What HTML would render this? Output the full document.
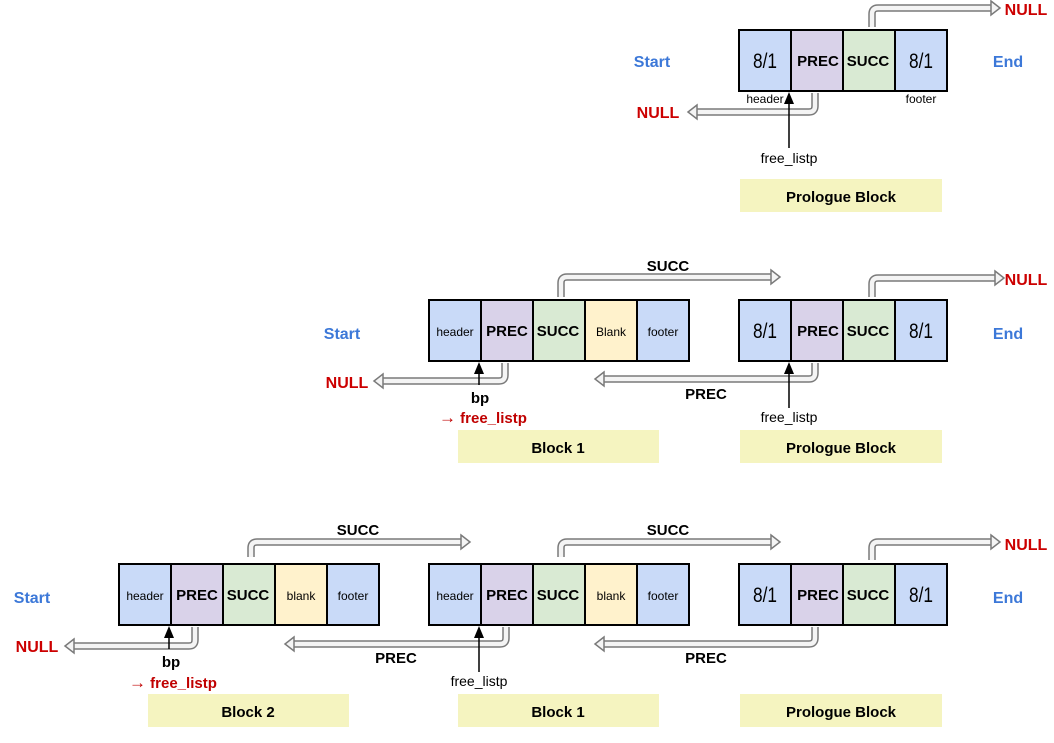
<!DOCTYPE html>
<html><head><meta charset="utf-8"><style>
html,body{margin:0;padding:0;background:#fff;}
svg{display:block;font-family:"Liberation Sans","DejaVu Sans",sans-serif;}
.b{font-weight:bold;}
.st{fill:#3C78D8;font-weight:bold;font-size:16px;}
.nl{fill:#CC0000;font-weight:bold;font-size:16px;}
.c{stroke:#000;stroke-width:2;}
.ao{fill:none;stroke:#7a7a7a;stroke-width:7.5;}
.ai{fill:none;stroke:#f4f4f4;stroke-width:4.5;}
.ah{fill:#f4f4f4;stroke:#7a7a7a;stroke-width:1.5;}
.lb{fill:#F5F4C0;}
.n8{font-size:21px;}
</style></head><body>
<svg width="1054" height="743" viewBox="0 0 1054 743" xmlns="http://www.w3.org/2000/svg">
<defs>
<g id="pro">
<rect x="0" y="0" width="52" height="61" fill="#C9DAF8" class="c"/>
<rect x="52" y="0" width="52" height="61" fill="#D9D2E9" class="c"/>
<rect x="104" y="0" width="52" height="61" fill="#D9EAD3" class="c"/>
<rect x="156" y="0" width="52" height="61" fill="#C9DAF8" class="c"/>
<text x="26" y="38" text-anchor="middle" class="n8" textLength="24" lengthAdjust="spacingAndGlyphs">8/1</text>
<text x="79" y="36" text-anchor="middle" class="b" font-size="15">PREC</text>
<text x="129" y="36" text-anchor="middle" class="b" font-size="15">SUCC</text>
<text x="182" y="38" text-anchor="middle" class="n8" textLength="24" lengthAdjust="spacingAndGlyphs">8/1</text>
</g>
</defs>

<!-- ROW 1 -->
<text x="652" y="67" text-anchor="middle" class="st">Start</text>
<text x="1008" y="67" text-anchor="middle" class="st">End</text>
<use href="#pro" x="739" y="30"/>
<text x="765" y="103" text-anchor="middle" font-size="12">header</text>
<text x="921" y="103" text-anchor="middle" font-size="12">footer</text>
<path class="ao" d="M872,27 V14 Q872,8 878,8 H993"/><path class="ai" d="M872,27 V14 Q872,8 878,8 H993"/>
<polygon class="ah" points="991,1 1000,8 991,15"/>
<text x="1026" y="15" text-anchor="middle" class="nl">NULL</text>
<path class="ao" d="M815,93 V106 Q815,112 809,112 H695"/><path class="ai" d="M815,93 V106 Q815,112 809,112 H695"/>
<polygon class="ah" points="697,105 688,112 697,119"/>
<text x="658" y="118" text-anchor="middle" class="nl">NULL</text>
<line x1="789" y1="148" x2="789" y2="104" stroke="#000" stroke-width="1.5"/>
<polygon points="784,104 794,104 789,92" fill="#000"/>
<text x="789" y="163" text-anchor="middle" font-size="14">free_listp</text>
<rect class="lb" x="740" y="179" width="202" height="33"/>
<text x="841" y="202" text-anchor="middle" class="b" font-size="15">Prologue Block</text>

<!-- ROW 2 -->
<text x="342" y="339" text-anchor="middle" class="st">Start</text>
<text x="1008" y="339" text-anchor="middle" class="st">End</text>
<rect x="429" y="300" width="52" height="61" fill="#C9DAF8" class="c"/>
<rect x="481" y="300" width="52" height="61" fill="#D9D2E9" class="c"/>
<rect x="533" y="300" width="52" height="61" fill="#D9EAD3" class="c"/>
<rect x="585" y="300" width="52" height="61" fill="#FFF2CC" class="c"/>
<rect x="637" y="300" width="52" height="61" fill="#C9DAF8" class="c"/>
<text x="455" y="336" text-anchor="middle" font-size="12">header</text>
<text x="507" y="336" text-anchor="middle" class="b" font-size="15">PREC</text>
<text x="558" y="336" text-anchor="middle" class="b" font-size="15">SUCC</text>
<text x="611" y="336" text-anchor="middle" font-size="12">Blank</text>
<text x="663" y="336" text-anchor="middle" font-size="12">footer</text>
<use href="#pro" x="739" y="300"/>
<path class="ao" d="M561,297 V283 Q561,277 567,277 H773"/><path class="ai" d="M561,297 V283 Q561,277 567,277 H773"/>
<polygon class="ah" points="771,270 780,277 771,284"/>
<text x="668" y="271" text-anchor="middle" class="b" font-size="15">SUCC</text>
<path class="ao" d="M872,297 V284 Q872,278 878,278 H997"/><path class="ai" d="M872,297 V284 Q872,278 878,278 H997"/>
<polygon class="ah" points="995,271 1004,278 995,285"/>
<text x="1026" y="285" text-anchor="middle" class="nl">NULL</text>
<path class="ao" d="M815,363 V373 Q815,379 809,379 H602"/><path class="ai" d="M815,363 V373 Q815,379 809,379 H602"/>
<polygon class="ah" points="604,372 595,379 604,386"/>
<text x="706" y="399" text-anchor="middle" class="b" font-size="15">PREC</text>
<path class="ao" d="M505,363 V375 Q505,381 499,381 H381"/><path class="ai" d="M505,363 V375 Q505,381 499,381 H381"/>
<polygon class="ah" points="383,374 374,381 383,388"/>
<text x="347" y="388" text-anchor="middle" class="nl">NULL</text>
<line x1="479" y1="385" x2="479" y2="373" stroke="#000" stroke-width="1.5"/>
<polygon points="474,374 484,374 479,362" fill="#000"/>
<text x="480" y="403" text-anchor="middle" class="b" font-size="15">bp</text>
<text x="439" y="423" font-size="15" fill="#C00000" class="b"><tspan font-size="17">→</tspan> free_listp</text>
<line x1="789" y1="408" x2="789" y2="374" stroke="#000" stroke-width="1.5"/>
<polygon points="784,374 794,374 789,362" fill="#000"/>
<text x="789" y="422" text-anchor="middle" font-size="14">free_listp</text>
<rect class="lb" x="458" y="430" width="201" height="33"/>
<text x="558" y="453" text-anchor="middle" class="b" font-size="15">Block 1</text>
<rect class="lb" x="740" y="430" width="202" height="33"/>
<text x="841" y="453" text-anchor="middle" class="b" font-size="15">Prologue Block</text>

<!-- ROW 3 -->
<text x="32" y="603" text-anchor="middle" class="st">Start</text>
<text x="1008" y="603" text-anchor="middle" class="st">End</text>
<rect x="119" y="564" width="52" height="61" fill="#C9DAF8" class="c"/>
<rect x="171" y="564" width="52" height="61" fill="#D9D2E9" class="c"/>
<rect x="223" y="564" width="52" height="61" fill="#D9EAD3" class="c"/>
<rect x="275" y="564" width="52" height="61" fill="#FFF2CC" class="c"/>
<rect x="327" y="564" width="52" height="61" fill="#C9DAF8" class="c"/>
<text x="145" y="600" text-anchor="middle" font-size="12">header</text>
<text x="197" y="600" text-anchor="middle" class="b" font-size="15">PREC</text>
<text x="248" y="600" text-anchor="middle" class="b" font-size="15">SUCC</text>
<text x="301" y="600" text-anchor="middle" font-size="12">blank</text>
<text x="353" y="600" text-anchor="middle" font-size="12">footer</text>
<rect x="429" y="564" width="52" height="61" fill="#C9DAF8" class="c"/>
<rect x="481" y="564" width="52" height="61" fill="#D9D2E9" class="c"/>
<rect x="533" y="564" width="52" height="61" fill="#D9EAD3" class="c"/>
<rect x="585" y="564" width="52" height="61" fill="#FFF2CC" class="c"/>
<rect x="637" y="564" width="52" height="61" fill="#C9DAF8" class="c"/>
<text x="455" y="600" text-anchor="middle" font-size="12">header</text>
<text x="507" y="600" text-anchor="middle" class="b" font-size="15">PREC</text>
<text x="558" y="600" text-anchor="middle" class="b" font-size="15">SUCC</text>
<text x="611" y="600" text-anchor="middle" font-size="12">blank</text>
<text x="663" y="600" text-anchor="middle" font-size="12">footer</text>
<use href="#pro" x="739" y="564"/>
<path class="ao" d="M251,557 V548 Q251,542 257,542 H463"/><path class="ai" d="M251,557 V548 Q251,542 257,542 H463"/>
<polygon class="ah" points="461,535 470,542 461,549"/>
<text x="358" y="535" text-anchor="middle" class="b" font-size="15">SUCC</text>
<path class="ao" d="M561,557 V548 Q561,542 567,542 H773"/><path class="ai" d="M561,557 V548 Q561,542 567,542 H773"/>
<polygon class="ah" points="771,535 780,542 771,549"/>
<text x="668" y="535" text-anchor="middle" class="b" font-size="15">SUCC</text>
<path class="ao" d="M872,560 V548 Q872,542 878,542 H993"/><path class="ai" d="M872,560 V548 Q872,542 878,542 H993"/>
<polygon class="ah" points="991,535 1000,542 991,549"/>
<text x="1026" y="550" text-anchor="middle" class="nl">NULL</text>
<path class="ao" d="M815,627 V638 Q815,644 809,644 H602"/><path class="ai" d="M815,627 V638 Q815,644 809,644 H602"/>
<polygon class="ah" points="604,637 595,644 604,651"/>
<text x="706" y="663" text-anchor="middle" class="b" font-size="15">PREC</text>
<path class="ao" d="M506,627 V638 Q506,644 500,644 H292"/><path class="ai" d="M506,627 V638 Q506,644 500,644 H292"/>
<polygon class="ah" points="294,637 285,644 294,651"/>
<text x="396" y="663" text-anchor="middle" class="b" font-size="15">PREC</text>
<path class="ao" d="M195,627 V640 Q195,646 189,646 H72"/><path class="ai" d="M195,627 V640 Q195,646 189,646 H72"/>
<polygon class="ah" points="74,639 65,646 74,653"/>
<text x="37" y="652" text-anchor="middle" class="nl">NULL</text>
<line x1="169" y1="649" x2="169" y2="637" stroke="#000" stroke-width="1.5"/>
<polygon points="164,638 174,638 169,626" fill="#000"/>
<text x="171" y="667" text-anchor="middle" class="b" font-size="15">bp</text>
<text x="129" y="688" font-size="15" fill="#C00000" class="b"><tspan font-size="17">→</tspan> free_listp</text>
<line x1="479" y1="672" x2="479" y2="638" stroke="#000" stroke-width="1.5"/>
<polygon points="474,638 484,638 479,626" fill="#000"/>
<text x="479" y="686" text-anchor="middle" font-size="14">free_listp</text>
<rect class="lb" x="148" y="694" width="201" height="33"/>
<text x="248" y="717" text-anchor="middle" class="b" font-size="15">Block 2</text>
<rect class="lb" x="458" y="694" width="201" height="33"/>
<text x="558" y="717" text-anchor="middle" class="b" font-size="15">Block 1</text>
<rect class="lb" x="740" y="694" width="202" height="33"/>
<text x="841" y="717" text-anchor="middle" class="b" font-size="15">Prologue Block</text>
</svg>
</body></html>
